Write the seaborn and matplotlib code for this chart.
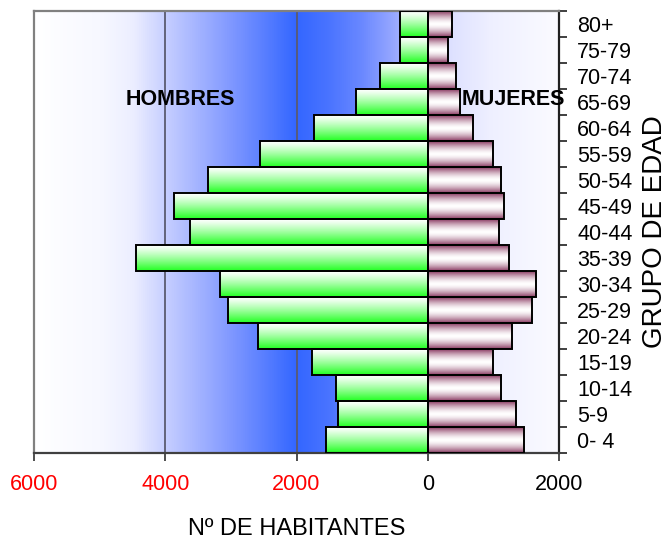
import numpy as np
import pandas as pd
import matplotlib
matplotlib.use("Agg")
import matplotlib.pyplot as plt
import seaborn as sns
from matplotlib.colors import LinearSegmentedColormap, to_rgb

# ---- data (top row first) ----
age_groups = ["80+", "75-79", "70-74", "65-69", "60-64", "55-59", "50-54", "45-49",
              "40-44", "35-39", "30-34", "25-29", "20-24", "15-19", "10-14", "5-9", "0- 4"]
hombres = [421, 421, 726, 1091, 1730, 2557, 3350, 3868, 3622, 4446, 3168, 3043,
           2589, 1761, 1396, 1365, 1553]
mujeres = [365, 304, 426, 492, 694, 999, 1120, 1157, 1090, 1243, 1649, 1583,
           1283, 999, 1120, 1344, 1466]
x_ticks = [-6000, -4000, -2000, 0, 2000]
x_tick_labels = ["6000", "4000", "2000", "0", "2000"]
x_tick_colors = ["red", "red", "red", "black", "black"]

df = pd.DataFrame({
    "grupo": age_groups * 2,
    "valor": [-v for v in hombres] + mujeres,
    "sexo": ["Hombres"] * len(age_groups) + ["Mujeres"] * len(age_groups),
})

sns.set_theme(style="white")
plt.rcParams["font.family"] = ["Liberation Sans", "DejaVu Sans"]
plt.rcParams["text.color"] = "black"
plt.rcParams["axes.labelcolor"] = "black"
plt.rcParams["xtick.color"] = "black"
plt.rcParams["ytick.color"] = "black"

fig = plt.figure(figsize=(6.67, 5.39), dpi=100)
ax = fig.add_axes([34 / 667, 1 - 453 / 539, (559 - 34) / 667, (453 - 11) / 539])

sns.barplot(data=df, x="valor", y="grupo", hue="sexo", order=age_groups,
            hue_order=["Hombres", "Mujeres"], dodge=False, width=1.0, orient="h",
            errorbar=None, legend=False, ax=ax, edgecolor="black", linewidth=1.4,
            palette=["#33ff33", "#993366"])

xmin, xmax = -6000, 2000
ymin, ymax = -0.5, len(age_groups) - 0.5

# background gradient
bg = LinearSegmentedColormap.from_list("bg", [
    (0.0, "#ffffff"), (1000 / 8000, "#f7f8ff"), (1500 / 8000, "#eceeff"),
    (2000 / 8000, "#c6ceff"), (3000 / 8000, "#8098ff"), (4000 / 8000, "#3366ff"),
    (4500 / 8000, "#4a74ff"), (5000 / 8000, "#6a88ff"), (5500 / 8000, "#98a8ff"),
    (6000 / 8000, "#cdd3ff"), (6400 / 8000, "#dfe2ff"), (7000 / 8000, "#eff0ff"),
    (1.0, "#fbfbff")])
grad = np.linspace(0, 1, 800).reshape(1, -1)
ax.imshow(grad, cmap=bg, extent=(xmin, xmax, ymax, ymin), aspect="auto",
          origin="upper", zorder=0, interpolation="bilinear")

for gx in [-4000, -2000]:
    ax.axvline(gx, color="#5a5a70", lw=1.3, zorder=0.5)

# gradient fills for bars
green_top, green_bot = np.array(to_rgb("#ffffff")), np.array(to_rgb("#22ff22"))
maroon, white = np.array(to_rgb("#8a3a62")), np.array([1.0, 1.0, 1.0])
n = 64
t = np.linspace(0, 1, n)[:, None]
green_img = (green_top * (1 - t ** 1.2) + green_bot * t ** 1.2)[:, None, :]
u = np.abs(2 * t - 1) ** 1.6
maroon_img = (white * (1 - u) + maroon * u)[:, None, :]

for patch in list(ax.patches):
    x0, w = patch.get_x(), patch.get_width()
    y0, h = patch.get_y(), patch.get_height()
    if w == 0 or np.isnan(w):
        continue
    left, right = min(x0, x0 + w), max(x0, x0 + w)
    top, bot = min(y0, y0 + h), max(y0, y0 + h)
    img = green_img if left < 0 else maroon_img
    im = ax.imshow(img, extent=(left, right, bot, top), aspect="auto",
                   origin="upper", zorder=2, interpolation="bilinear")
    im.set_clip_path(patch)
    patch.set_facecolor("none")
    patch.set_zorder(3)

ax.set_xlim(xmin, xmax)
ax.set_ylim(ymax, ymin)

# x axis
ax.set_xticks(x_ticks)
ax.set_xticklabels(x_tick_labels, fontsize=15.5)
for lab, c in zip(ax.get_xticklabels(), x_tick_colors):
    lab.set_color(c)
ax.tick_params(axis="x", direction="out", length=6, width=1.3, color="#404040",
               pad=9, bottom=True)
ax.set_xlabel("Nº DE HABITANTES", fontsize=17, labelpad=17)

# y axis on the right
ax.yaxis.tick_right()
ax.yaxis.set_label_position("right")
ax.set_yticks(np.arange(-0.5, len(age_groups), 1.0))
ax.set_yticklabels([])
ax.set_yticks(np.arange(len(age_groups)), minor=True)
ax.set_yticklabels(age_groups, minor=True, fontsize=15.5)
ax.tick_params(axis="y", which="major", direction="out", length=6, width=1.3,
               color="#303030", right=True, left=False)
ax.tick_params(axis="y", which="minor", length=0, pad=13, right=True, left=False)
ax.set_ylabel("GRUPO DE EDAD", fontsize=20, labelpad=7, rotation=90)

for side, col in [("left", "#808080"), ("top", "#808080"), ("bottom", "#404040"),
                  ("right", "#202020")]:
    ax.spines[side].set_visible(True)
    ax.spines[side].set_color(col)
    ax.spines[side].set_linewidth(1.6)

ax.text(-4600, 2.9, "HOMBRES", fontsize=15.5, fontweight="bold", ha="left",
        va="center", zorder=5, color="black")
ax.text(520, 2.9, "MUJERES", fontsize=15.5, fontweight="bold", ha="left",
        va="center", zorder=5, clip_on=False, color="black")

fig.savefig("out.png", dpi=100)
